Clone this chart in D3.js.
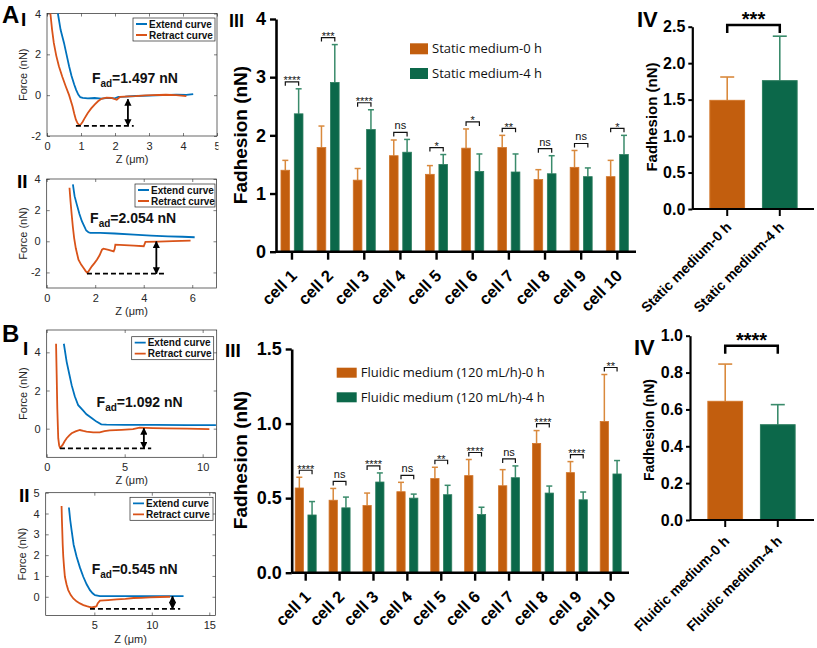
<!DOCTYPE html>
<html><head><meta charset="utf-8">
<script src="https://cdn.jsdelivr.net/npm/d3@7"></script>
<style>body{margin:0;background:#fff}</style>
</head><body><svg id="c" width="817" height="648"></svg>
<script>
// ---------------- DATA ----------------
const cells = ['cell 1','cell 2','cell 3','cell 4','cell 5','cell 6','cell 7','cell 8','cell 9','cell 10'];
const seriesKeys = ['0 h','4 h'];
// A III: static medium, per cell (mean, SD)
const staticMean0h = [1.40,1.79,1.23,1.65,1.33,1.78,1.79,1.24,1.45,1.29];
const staticSD0h   = [0.17,0.37,0.20,0.27,0.15,0.33,0.21,0.17,0.29,0.28];
const staticMean4h = [2.37,2.91,2.10,1.71,1.50,1.38,1.37,1.34,1.29,1.67];
const staticSD4h   = [0.43,0.65,0.34,0.22,0.17,0.30,0.31,0.31,0.15,0.33];
const staticSig    = ['****','***','****','ns','*','*','**','ns','ns','*'];
const staticLegend = ['Static medium-0 h','Static medium-4 h'];
const staticYTicks = [0,1,2,3,4];
// B III: fluidic medium, per cell
const fluidicMean0h = [0.568,0.486,0.450,0.543,0.631,0.651,0.583,0.867,0.671,1.014];
const fluidicSD0h   = [0.072,0.079,0.084,0.063,0.076,0.108,0.108,0.086,0.074,0.315];
const fluidicMean4h = [0.387,0.435,0.608,0.500,0.523,0.390,0.637,0.534,0.489,0.662];
const fluidicSD4h   = [0.090,0.072,0.061,0.027,0.063,0.049,0.079,0.047,0.052,0.090];
const fluidicSig    = ['****','ns','****','ns','**','****','ns','****','****','**'];
const fluidicLegend = ['Fluidic medium (120 mL/h)-0 h','Fluidic medium (120 mL/h)-4 h'];
const fluidicYTicks = [0,0.5,1.0,1.5];
// IV panels: pooled
const pooledStaticLabels = ['Static medium-0 h','Static medium-4 h'];
const pooledStaticMean = [1.49,1.76];
const pooledStaticSD = [0.32,0.61];
const pooledStaticSig = '***';
const pooledStaticTicks = [0,0.5,1.0,1.5,2.0,2.5];
const pooledFluidicLabels = ['Fluidic medium-0 h','Fluidic medium-4 h'];
const pooledFluidicMean = [0.644,0.517];
const pooledFluidicSD = [0.202,0.109];
const pooledFluidicSig = '****';
const pooledFluidicTicks = [0,0.2,0.4,0.6,0.8,1.0];
// Force curves [Z (um), Force (nN)]
const curveLegend = ['Extend curve','Retract curve'];
const aIExtend = [[0.32,4],[0.4,3.2],[0.5,2.56],[0.58,1.95],[0.65,1.42],[0.72,0.95],[0.8,0.52],[0.86,0.25],[0.92,0.03],[0.98,-0.1],[1.05,-0.13],[1.2,-0.16],[1.4,-0.14],[1.6,-0.17],[1.8,-0.13],[2.0,-0.16],[2.1,-0.08],[2.3,-0.07],[2.6,-0.04],[3.0,-0.02],[3.4,0.0],[3.8,0.02],[4.1,0.01],[4.3,0.05]];
const aIRetract = [[0.1,4],[0.15,3.2],[0.2,2.56],[0.27,1.95],[0.35,1.42],[0.45,0.9],[0.55,0.44],[0.65,0.0],[0.75,-0.54],[0.8,-0.9],[0.85,-1.2],[0.9,-1.38],[0.95,-1.47],[1.0,-1.42],[1.05,-1.3],[1.1,-1.15],[1.2,-0.87],[1.3,-0.65],[1.4,-0.46],[1.5,-0.3],[1.6,-0.18],[1.75,-0.12],[1.9,-0.13],[2.0,-0.2],[2.05,-0.22],[2.15,-0.08],[2.4,-0.06],[2.6,-0.05],[2.9,-0.01],[3.1,0.0],[3.5,0.02],[3.8,0.0],[4.1,-0.05]];
const aIIExtend = [[1.08,3.66],[1.15,2.9],[1.24,2.37],[1.35,1.75],[1.45,1.29],[1.55,0.95],[1.63,0.69],[1.72,0.58],[1.8,0.54],[2.2,0.54],[2.8,0.5],[3.6,0.43],[4.3,0.37],[5.0,0.32],[5.6,0.29],[6.1,0.26]];
const aIIRetract = [[0.94,3.44],[0.98,2.6],[1.03,1.72],[1.08,0.9],[1.13,0.22],[1.2,-0.45],[1.31,-1.18],[1.42,-1.5],[1.52,-1.72],[1.6,-1.9],[1.68,-2.04],[1.76,-1.85],[1.86,-1.61],[1.96,-1.42],[2.07,-1.18],[2.18,-0.9],[2.28,-0.54],[2.34,-0.47],[2.55,-0.55],[2.76,-0.65],[2.8,-0.5],[2.83,-0.22],[3.2,-0.25],[3.6,-0.28],[4.0,-0.32],[4.07,-0.04],[4.6,-0.02],[5.2,0.01],[5.93,0.04]];
const bIExtend = [[1.1,4.45],[1.28,3.5],[1.45,2.85],[1.6,2.28],[1.8,1.7],[2.02,1.23],[2.3,0.98],[2.55,0.75],[2.9,0.55],[3.19,0.37],[3.5,0.23],[3.83,0.21],[5,0.2],[7,0.2],[9,0.19],[10.85,0.19]];
const bIRetract = [[0.6,4.45],[0.62,3.6],[0.64,2.8],[0.66,1.9],[0.68,1.06],[0.71,0.25],[0.74,-0.5],[0.8,-0.88],[0.85,-0.99],[0.92,-0.95],[1.02,-0.85],[1.15,-0.66],[1.28,-0.5],[1.45,-0.35],[1.6,-0.24],[1.85,-0.14],[2.13,-0.07],[2.35,-0.12],[2.55,-0.16],[2.98,-0.19],[3.4,-0.19],[3.7,-0.13],[4.04,-0.09],[4.8,-0.06],[5.53,-0.02],[5.96,0.05],[6.8,0.03],[7.66,0.02],[9,0.0],[10.43,-0.02]];
const bIIExtend = [[2.79,4.29],[2.9,3.7],[3.02,3.2],[3.2,2.5],[3.46,1.92],[3.75,1.4],[4.04,0.96],[4.33,0.6],[4.62,0.32],[4.85,0.17],[5.06,0.08],[5.49,0.03],[7,0.03],[9,0.03],[11,0.03],[12.76,0.03]];
const bIIRetract = [[2.15,4.36],[2.18,3.7],[2.21,3.2],[2.25,2.5],[2.3,1.92],[2.37,1.4],[2.44,0.96],[2.58,0.6],[2.73,0.32],[2.95,0.08],[3.17,-0.08],[3.45,-0.22],[3.75,-0.32],[4.05,-0.4],[4.33,-0.45],[4.55,-0.48],[4.77,-0.51],[5.06,-0.48],[5.2,-0.45],[5.29,-0.32],[5.49,-0.19],[6.2,-0.16],[6.95,-0.13],[7.7,-0.1],[8.4,-0.06],[9.1,-0.05],[9.85,-0.03],[10.7,-0.01],[11.6,0.0]];
const adhesionValues = ['1.497','2.054','1.092','0.545'];

// ---------------- STYLE ----------------
const ARIAL = "'Liberation Sans', Arial, sans-serif";
const SANS2 = "'Open Sans', sans-serif";
const ORANGE = '#C25E0E', GREEN = '#0C684A';
const ORANGE_EDGE = '#D2762A', GREEN_EDGE = '#2C7D5E';
const ORANGE_ERR = '#D9893C', GREEN_ERR = '#3A8B6B';
const EXT = '#0072BD', RET = '#D95319', AXC = '#262626';

const svg = d3.select('#c');
svg.append('rect').attr('width',817).attr('height',648).attr('fill','#fff');
const defs = svg.append('defs');
defs.append('clipPath').attr('id','leftcol').append('rect').attr('x',0).attr('y',0).attr('width',218.5).attr('height',648);
defs.append('marker').attr('id','ah').attr('viewBox','0 0 10 10').attr('refX',9).attr('refY',5)
  .attr('markerWidth',4).attr('markerHeight',4).attr('orient','auto-start-reverse')
  .append('path').attr('d','M0,0L10,5L0,10z').attr('fill','#000');

// ---------------- FORCE CURVE PANELS ----------------
function forcePanel(o){
  const g = svg.append('g').attr('clip-path','url(#leftcol)');
  const x = d3.scaleLinear().domain(o.xd).range([o.L,o.R]);
  const y = d3.scaleLinear().domain(o.yd).range([o.B,o.T]);
  const ax = (sel)=>{sel.select('.domain').remove();
    sel.selectAll('line').attr('stroke',AXC).attr('stroke-width',0.6);
    sel.selectAll('text').attr('fill',AXC).style('font-family',ARIAL).style('font-size','11px');};
  g.append('g').attr('transform',`translate(0,${o.B})`).call(d3.axisBottom(x).tickValues(o.xt).tickSize(-3).tickPadding(6).tickFormat(d3.format('d'))).call(ax);
  g.append('g').attr('transform',`translate(0,${o.T})`).call(d3.axisTop(x).tickValues(o.xt).tickSize(-3).tickFormat('')).call(ax);
  g.append('g').attr('transform',`translate(${o.L},0)`).call(d3.axisLeft(y).tickValues(o.yt).tickSize(-3).tickPadding(6).tickFormat(d=>d<0?'-'+Math.abs(d):d)).call(ax);
  g.append('g').attr('transform',`translate(${o.R},0)`).call(d3.axisRight(y).tickValues(o.yt).tickSize(-3).tickFormat('')).call(ax);
  g.append('rect').attr('x',o.L).attr('y',o.T).attr('width',o.R-o.L).attr('height',o.B-o.T)
    .attr('fill','none').attr('stroke',AXC).attr('stroke-width',0.7);
  const line = d3.line().x(d=>x(d[0])).y(d=>y(d[1]));
  g.append('path').datum(o.ext).attr('d',line).attr('fill','none').attr('stroke',EXT).attr('stroke-width',1.8);
  g.append('path').datum(o.ret).attr('d',line).attr('fill','none').attr('stroke',RET).attr('stroke-width',1.8);
  // adhesion annotation
  g.append('line').attr('x1',x(o.dash[0])).attr('x2',x(o.dash[1])).attr('y1',y(o.dash[2])).attr('y2',y(o.dash[2]))
    .attr('stroke','#000').attr('stroke-width',1.8).attr('stroke-dasharray','5,3');
  g.append('line').attr('x1',x(o.arrow[0])).attr('x2',x(o.arrow[0])).attr('y1',y(o.arrow[1])).attr('y2',y(o.arrow[2]))
    .attr('stroke','#000').attr('stroke-width',1.8).attr('marker-start','url(#ah)').attr('marker-end','url(#ah)');
  const t = g.append('text').attr('x',x(o.lab[0])).attr('y',y(o.lab[1])).style('font-family',ARIAL).style('font-weight','bold').style('font-size','14px').attr('fill','#111');
  t.append('tspan').text('F');
  t.append('tspan').attr('dy',4).style('font-size','10px').text('ad');
  t.append('tspan').attr('dy',-4).text('='+o.fad+' nN');
  // legend
  const lg = g.append('g').attr('transform',`translate(${o.leg[0]},${o.leg[1]})`);
  lg.append('rect').attr('width',o.leg[2]).attr('height',23).attr('fill','#fff').attr('stroke',AXC).attr('stroke-width',0.7);
  [EXT,RET].forEach((c,i)=>{
    lg.append('line').attr('x1',3).attr('x2',14).attr('y1',6+i*11).attr('y2',6+i*11).attr('stroke',c).attr('stroke-width',1.8);
    lg.append('text').attr('x',16).attr('y',6+i*11).attr('dy','0.35em').text(curveLegend[i])
      .style('font-family',ARIAL).style('font-weight','bold').style('font-size','10px').attr('fill','#111');
  });
  // axis labels
  g.append('text').attr('transform',`translate(${o.L-20},${(o.T+o.B)/2}) rotate(-90)`).attr('text-anchor','middle')
    .text('Force (nN)').style('font-family',ARIAL).style('font-size','11px').attr('fill',AXC);
  g.append('text').attr('x',(o.L+o.R)/2).attr('y',o.B+27).attr('text-anchor','middle')
    .text('Z (μm)').style('font-family',ARIAL).style('font-size','11px').attr('fill',AXC);
}
forcePanel({L:47,R:217,T:13.5,B:136,xd:[0,5],yd:[-2,4],xt:[0,1,2,3,4,5],yt:[-2,0,2,4],ext:aIExtend,ret:aIRetract,
  dash:[0.85,2.55,-1.5],arrow:[2.38,-0.2,-1.5],lab:[1.32,0.6],fad:adhesionValues[0],leg:[133,18,82]});
forcePanel({L:46.7,R:216.5,T:179,B:288,xd:[0,7],yd:[-3,4],xt:[0,2,4,6],yt:[-2,0,2,4],ext:aIIExtend,ret:aIIRetract,
  dash:[1.66,4.9,-2.08],arrow:[4.52,-0.02,-2.08],lab:[1.79,1.18],fad:adhesionValues[1],leg:[135,184,80]});
forcePanel({L:46.7,R:216.7,T:330,B:457.3,xd:[0,10.9],yd:[-1.5,5.17],xt:[0,5,10],yt:[0,2,4],ext:bIExtend,ret:bIRetract,
  dash:[0.85,6.7,-1.03],arrow:[6.23,0.02,-1.03],lab:[3.2,1.15],fad:adhesionValues[2],leg:[131.7,336.7,82]});
forcePanel({L:45.7,R:215.5,T:492.7,B:615.5,xd:[0.77,15.54],yd:[-0.9,5],xt:[5,10,15],yt:[0,1,2,3,4,5],ext:bIIExtend,ret:bIIRetract,
  dash:[4.62,12.47,-0.58],arrow:[11.8,0.02,-0.58],lab:[4.77,1.08],fad:adhesionValues[3],leg:[130,497.3,83]});

// ---------------- PER-CELL BAR PANELS ----------------
function cellPanel(o){
  const g = svg.append('g');
  const y = d3.scaleLinear().domain(o.yd).range([o.B,o.T]);
  const x = d3.scaleBand().domain(cells).range(o.xr);
  const x1 = d3.scaleBand().domain(seriesKeys).range([-o.half,o.half]).paddingInner(0.35);
  const cx = c => x(c)+x.bandwidth()/2;
  const ser = [{m:o.m0,s:o.s0,f:ORANGE,e:ORANGE_EDGE,er:ORANGE_ERR,k:seriesKeys[0]},
               {m:o.m4,s:o.s4,f:GREEN,e:GREEN_EDGE,er:GREEN_ERR,k:seriesKeys[1]}];
  const bw = x1.bandwidth();
  ser.forEach(S=>{
    const d = cells.map((c,i)=>({c,m:S.m[i],s:S.s[i]}));
    g.append('g').selectAll('line.v').data(d).join('line')
      .attr('x1',q=>cx(q.c)+x1(S.k)+bw/2).attr('x2',q=>cx(q.c)+x1(S.k)+bw/2)
      .attr('y1',q=>y(q.m)).attr('y2',q=>y(q.m+q.s)).attr('stroke',S.er).attr('stroke-width',1.5);
    g.append('g').selectAll('line.c').data(d).join('line')
      .attr('x1',q=>cx(q.c)+x1(S.k)+bw/2-3).attr('x2',q=>cx(q.c)+x1(S.k)+bw/2+3)
      .attr('y1',q=>y(q.m+q.s)).attr('y2',q=>y(q.m+q.s)).attr('stroke',S.er).attr('stroke-width',1.5);
    g.append('g').selectAll('rect').data(d).join('rect')
      .attr('x',q=>cx(q.c)+x1(S.k)).attr('width',bw).attr('y',q=>y(q.m)).attr('height',q=>o.B-y(q.m))
      .attr('fill',S.f).attr('stroke',S.e).attr('stroke-width',0.8);
  });
  // significance brackets
  cells.forEach((c,i)=>{
    const top = Math.max(o.m0[i]+o.s0[i], o.m4[i]+o.s4[i]);
    const by = y(top)-7;
    const xa = cx(c)+x1(seriesKeys[0])+bw/2, xb = cx(c)+x1(seriesKeys[1])+bw/2;
    g.append('path').attr('d',`M${xa},${by+4}V${by}H${xb}V${by+4}`).attr('fill','none').attr('stroke','#111').attr('stroke-width',1.2);
    const star = o.sig[i].includes('*');
    g.append('text').attr('x',(xa+xb)/2).attr('y',star?by+2.5:by-3).attr('text-anchor','middle').text(o.sig[i])
      .style('font-family',ARIAL).style('font-size','11px').attr('fill','#111');
  });
  // axes
  const ya = g.append('g').attr('transform',`translate(${o.L},0)`)
    .call(d3.axisLeft(y).tickValues(o.yt).tickSize(6).tickPadding(4).tickSizeOuter(0).tickFormat(o.fmt));
  ya.select('.domain').attr('stroke','#000').attr('stroke-width',2.6);
  ya.selectAll('line').attr('stroke','#000').attr('stroke-width',2.4);
  ya.selectAll('text').style('font-family',ARIAL).style('font-weight','bold').style('font-size','18px').attr('fill','#000');
  const xa = g.append('g').attr('transform',`translate(0,${o.B})`).call(d3.axisBottom(x).tickSize(8).tickFormat(''));
  xa.select('.domain').remove();
  xa.selectAll('line').attr('stroke','#000').attr('stroke-width',2.4);
  g.append('line').attr('x1',o.L).attr('x2',o.axR).attr('y1',o.B).attr('y2',o.B).attr('stroke','#000').attr('stroke-width',2.6);
  g.append('g').selectAll('text').data(cells).join('text')
    .attr('transform',c=>`translate(${cx(c)+6},${o.B+25}) rotate(-45)`).attr('text-anchor','end').text(c=>c)
    .style('font-family',ARIAL).style('font-weight','bold').style('font-size','16.5px').attr('fill','#000');
  g.append('text').attr('transform',`translate(${o.ylx},${o.yly}) rotate(-90)`).attr('text-anchor','middle').attr('dy','0.35em')
    .text('Fadhesion (nN)').style('font-family',ARIAL).style('font-weight','bold').style('font-size','19px').attr('fill','#000');
  // legend
  [ORANGE,GREEN].forEach((c,i)=>{
    g.append('rect').attr('x',o.leg[0]).attr('y',o.leg[1]+i*o.leg[4]).attr('width',o.leg[2]).attr('height',o.leg[3]).attr('fill',c);
    g.append('text').attr('x',o.leg[0]+o.leg[2]+4).attr('y',o.leg[1]+i*o.leg[4]+o.leg[3]/2).attr('dy','0.35em')
      .text(o.legText[i]).style('font-family',SANS2).style('font-size','13px').attr('fill','#111');
  });
}
cellPanel({L:276,axR:636,T:19,B:251.7,yd:[0,4],yt:staticYTicks,fmt:d3.format('d'),xr:[273.9,635.4],half:11,
  m0:staticMean0h,s0:staticSD0h,m4:staticMean4h,s4:staticSD4h,sig:staticSig,ylx:240,yly:135,
  leg:[410,43.3,18,11,24.7],legText:staticLegend});
cellPanel({L:291.7,axR:629,T:349,B:572.7,yd:[0,1.5],yt:fluidicYTicks,fmt:d3.format('.1f'),xr:[288.75,627.65],half:10.5,
  m0:fluidicMean0h,s0:fluidicSD0h,m4:fluidicMean4h,s4:fluidicSD4h,sig:fluidicSig,ylx:240,yly:460,
  leg:[336.7,367.7,20,10,24.6],legText:fluidicLegend});

// ---------------- POOLED PANELS ----------------
function pooledPanel(o){
  const g = svg.append('g');
  const y = d3.scaleLinear().domain(o.yd).range([o.B,o.T]);
  const x = d3.scaleBand().domain(o.labels).range(o.xr).paddingInner(0.34).paddingOuter(0.34);
  const cols = [[ORANGE,ORANGE_EDGE,ORANGE_ERR],[GREEN,GREEN_EDGE,GREEN_ERR]];
  o.labels.forEach((l,i)=>{
    const c = x(l)+x.bandwidth()/2;
    g.append('line').attr('x1',c).attr('x2',c).attr('y1',y(o.mean[i])).attr('y2',y(o.mean[i]+o.sd[i])).attr('stroke',cols[i][2]).attr('stroke-width',1.6);
    g.append('line').attr('x1',c-7).attr('x2',c+7).attr('y1',y(o.mean[i]+o.sd[i])).attr('y2',y(o.mean[i]+o.sd[i])).attr('stroke',cols[i][2]).attr('stroke-width',1.6);
    g.append('rect').attr('x',x(l)).attr('width',x.bandwidth()).attr('y',y(o.mean[i])).attr('height',o.B-y(o.mean[i]))
      .attr('fill',cols[i][0]).attr('stroke',cols[i][1]).attr('stroke-width',1);
  });
  const xa0 = x(o.labels[0])+x.bandwidth()/2, xb0 = x(o.labels[1])+x.bandwidth()/2;
  g.append('path').attr('d',`M${xa0},${o.br+8}V${o.br}H${xb0}V${o.br+8}`).attr('fill','none').attr('stroke','#000').attr('stroke-width',2.5);
  g.append('text').attr('x',(xa0+xb0)/2).attr('y',o.br+1).attr('text-anchor','middle').text(o.sig)
    .style('font-family',ARIAL).style('font-weight','bold').style('font-size','20px').attr('fill','#000');
  const ya = g.append('g').attr('transform',`translate(${o.L},0)`)
    .call(d3.axisLeft(y).tickValues(o.yt).tickSize(4).tickPadding(3).tickSizeOuter(0).tickFormat(d3.format('.1f')));
  ya.select('.domain').attr('stroke','#000').attr('stroke-width',2.2);
  ya.selectAll('line').attr('stroke','#000').attr('stroke-width',2);
  ya.selectAll('text').style('font-family',ARIAL).style('font-weight','bold').style('font-size','16px').attr('fill','#000');
  const xa = g.append('g').attr('transform',`translate(0,${o.B})`).call(d3.axisBottom(x).tickSize(7).tickFormat(''));
  xa.select('.domain').remove();
  xa.selectAll('line').attr('stroke','#000').attr('stroke-width',2);
  g.append('line').attr('x1',o.L).attr('x2',o.axR).attr('y1',o.B).attr('y2',o.B).attr('stroke','#000').attr('stroke-width',2.2);
  g.append('g').selectAll('text').data(o.labels).join('text')
    .attr('transform',l=>`translate(${x(l)+x.bandwidth()/2+5},${o.B+o.lo}) rotate(-45)`).attr('text-anchor','end').text(l=>l)
    .style('font-family',ARIAL).style('font-weight','bold').style('font-size','14px').attr('fill','#000');
  g.append('text').attr('transform',`translate(${o.ylx},${o.yly}) rotate(-90)`).attr('text-anchor','middle').attr('dy','0.35em')
    .text('Fadhesion (nN)').style('font-family',ARIAL).style('font-weight','bold').style('font-size',o.yfs+'px').attr('fill','#000');
}
pooledPanel({L:692.3,axR:814,T:26.7,B:209,yd:[0,2.5],yt:pooledStaticTicks,xr:[692,815],labels:pooledStaticLabels,
  mean:pooledStaticMean,sd:pooledStaticSD,sig:pooledStaticSig,br:25,ylx:652,yly:117,yfs:15,lo:19});
pooledPanel({L:690,axR:814,T:335.7,B:520,yd:[0,1],yt:pooledFluidicTicks,xr:[690,813],labels:pooledFluidicLabels,
  mean:pooledFluidicMean,sd:pooledFluidicSD,sig:pooledFluidicSig,br:345.7,ylx:649,yly:430,yfs:14,lo:22});

// ---------------- PANEL LABELS ----------------
const labels = [['A',2,23,24],['I',21,26,19],['II',17,188,19],['III',229,27,18],['IV',637,27,22],
                ['B',2,342,24],['I',23,355,19],['II',19,502,19],['III',225,357,19],['IV',634,355,22]];
svg.append('g').selectAll('text').data(labels).join('text')
  .attr('x',d=>d[1]).attr('y',d=>d[2]).text(d=>d[0])
  .style('font-family',ARIAL).style('font-weight','bold').style('font-size',d=>d[3]+'px').attr('fill','#000');
</script></body></html>
